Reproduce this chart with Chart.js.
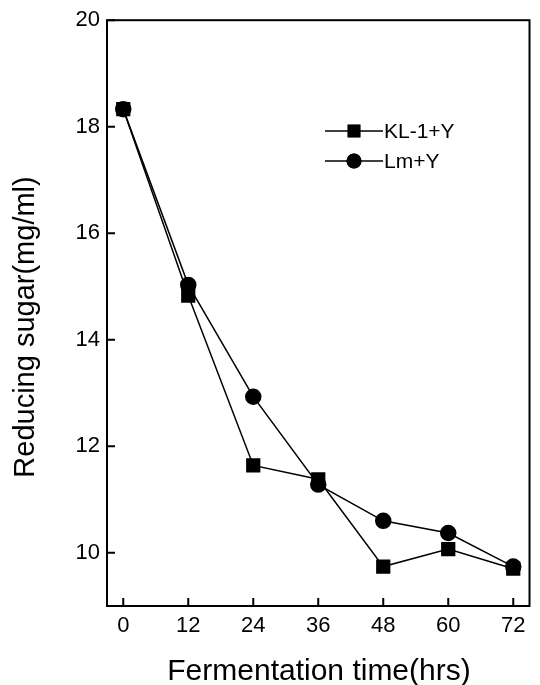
<!DOCTYPE html>
<html>
<head>
<meta charset="utf-8">
<script src="https://cdn.jsdelivr.net/npm/chart.js@4/dist/chart.umd.min.js"></script>
<style>
  html, body { margin: 0; padding: 0; background: #fff; }
  #wrap { width: 540px; height: 685px; }
</style>
</head>
<body>
<div id="wrap"><canvas id="chart" width="540" height="685"></canvas></div>
<script>
// Fermentation time (hrs) and reducing sugar (mg/ml)
const hours = [0, 12, 24, 36, 48, 60, 72];
const kl1Y = [18.33, 14.83, 11.64, 11.38, 9.74, 10.07, 9.70];
const lmY = [18.33, 15.03, 12.93, 11.28, 10.60, 10.37, 9.74];
const xTicks = [0, 12, 24, 36, 48, 60, 72];
const yTicks = [10, 12, 14, 16, 18, 20];
const xTitle = 'Fermentation time(hrs)';
const yTitle = 'Reducing sugar(mg/ml)';

const FONT = 'Liberation Sans, Arial, sans-serif';

// Frame, inward tick marks, axis titles and legend
const framePlugin = {
  id: 'frame',
  afterDraw(chart) {
    const { ctx, chartArea: a, scales } = chart;
    ctx.save();
    ctx.strokeStyle = '#000';
    ctx.fillStyle = '#000';
    ctx.lineWidth = 2;
    ctx.strokeRect(a.left, a.top, a.right - a.left, a.bottom - a.top);

    ctx.beginPath();
    xTicks.forEach(v => {
      const x = scales.x.getPixelForValue(v);
      ctx.moveTo(x, a.bottom);
      ctx.lineTo(x, a.bottom - 8);
    });
    yTicks.forEach(v => {
      const y = scales.y.getPixelForValue(v);
      ctx.moveTo(a.left, y);
      ctx.lineTo(a.left + 8, y);
    });
    ctx.stroke();

    // axis titles
    ctx.textAlign = 'center';
    ctx.textBaseline = 'alphabetic';
    ctx.font = '30px ' + FONT;
    ctx.fillText(xTitle, 319, 680);
    ctx.save();
    ctx.translate(34, 327);
    ctx.rotate(-Math.PI / 2);
    ctx.font = '29px ' + FONT;
    ctx.fillText(yTitle, 0, 0);
    ctx.restore();

    // legend
    const rows = [
      { label: 'KL-1+Y', ds: chart.data.datasets[0], y: 131 },
      { label: 'Lm+Y', ds: chart.data.datasets[1], y: 161 }
    ];
    ctx.font = '21px ' + FONT;
    ctx.textAlign = 'left';
    ctx.textBaseline = 'middle';
    rows.forEach(r => {
      ctx.lineWidth = 1.5;
      ctx.beginPath();
      ctx.moveTo(325, r.y);
      ctx.lineTo(383, r.y);
      ctx.stroke();
      Chart.helpers.drawPoint(ctx, {
        pointStyle: r.ds.pointStyle,
        radius: r.ds.pointRadius,
        rotation: 0,
        borderWidth: 0
      }, 354, r.y);
      ctx.fill();
      ctx.fillText(r.label, 384, r.y + 1);
    });
    ctx.restore();
  }
};

new Chart(document.getElementById('chart'), {
  type: 'line',
  data: {
    datasets: [
      {
        label: 'KL-1+Y',
        data: hours.map((h, i) => ({ x: h, y: kl1Y[i] })),
        borderColor: '#000',
        backgroundColor: '#000',
        borderWidth: 1.5,
        pointStyle: 'rect',
        pointRadius: 9,
        pointHoverRadius: 9,
        tension: 0
      },
      {
        label: 'Lm+Y',
        data: hours.map((h, i) => ({ x: h, y: lmY[i] })),
        borderColor: '#000',
        backgroundColor: '#000',
        borderWidth: 1.5,
        pointStyle: 'circle',
        pointRadius: 7.5,
        pointHoverRadius: 7.5,
        tension: 0
      }
    ]
  },
  options: {
    responsive: false,
    animation: false,
    layout: { padding: { top: 18, right: 7, left: 0, bottom: 0 } },
    plugins: {
      legend: { display: false },
      tooltip: { enabled: false }
    },
    scales: {
      x: {
        type: 'linear',
        min: -3,
        max: 75,
        afterBuildTicks: s => { s.ticks = xTicks.map(v => ({ value: v })); },
        afterFit: s => { s.height = 79; },
        grid: { display: false, drawTicks: false },
        border: { display: false },
        ticks: { color: '#000', padding: 7, font: { family: FONT, size: 22 } }
      },
      y: {
        min: 9,
        max: 20,
        afterBuildTicks: s => { s.ticks = yTicks.map(v => ({ value: v })); },
        afterFit: s => { s.width = 107; },
        grid: { display: false, drawTicks: false },
        border: { display: false },
        ticks: { color: '#000', padding: 7, font: { family: FONT, size: 22 } }
      }
    }
  },
  plugins: [framePlugin]
});
</script>
</body>
</html>
